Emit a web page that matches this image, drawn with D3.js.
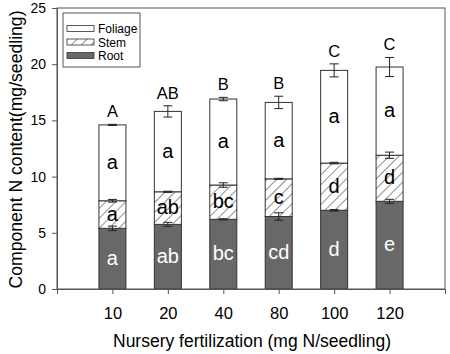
<!DOCTYPE html>
<html>
<head>
<meta charset="utf-8">
<script src="https://cdn.jsdelivr.net/npm/d3@7"></script>
<style>
  body { margin: 0; background: #fff; }
  svg { font-family: "Liberation Sans", Arial, sans-serif; }
</style>
</head>
<body>
<script>
let width = 450;
let height = 354;

// data
let categories = ["10", "20", "40", "80", "100", "120"];
let root = [5.4, 5.75, 6.2, 6.45, 7.0, 7.8];
let stem = [2.45, 2.9, 3.05, 3.35, 4.2, 4.1];
let foliage = [6.75, 7.15, 7.65, 6.8, 8.25, 7.85];
let rootErr = [0.2, 0.18, 0.05, 0.33, 0.07, 0.18];
let stemErr = [0.12, 0.05, 0.2, 0.05, 0.07, 0.28];
let foliageErr = [0.05, 0.5, 0.15, 0.55, 0.58, 0.85];
let totalLetters = ["A", "AB", "B", "B", "C", "C"];
let foliageLetters = ["a", "a", "a", "a", "a", "a"];
let stemLetters = ["a", "ab", "bc", "c", "d", "d"];
let rootLetters = ["a", "ab", "bc", "cd", "d", "e"];
let yTicks = [0, 5, 10, 15, 20, 25];

let mLeft = 57, mRight = 445, mTop = 8, mBottom = 289;
let barW = 27;

let svg = d3.select("body").append("svg")
    .attr("width", width)
    .attr("height", height);

let defs = svg.append("defs");
let pat = defs.append("pattern")
    .attr("id", "hatch")
    .attr("patternUnits", "userSpaceOnUse")
    .attr("width", 7)
    .attr("height", 7)
    .attr("patternTransform", "rotate(45)");
pat.append("rect").attr("width", 7).attr("height", 7).attr("fill", "#fff");
pat.append("line")
    .attr("x1", 0).attr("y1", 0).attr("x2", 0).attr("y2", 7)
    .attr("stroke", "#222").attr("stroke-width", 1);

let x = d3.scaleLinear().domain([0, categories.length + 1]).range([mLeft, mRight]);
let y = d3.scaleLinear().domain([0, 25]).range([mBottom, mTop]);

// build stacked rows
let rows = categories.map(function (c, i) {
    return {
        i: i,
        cat: c,
        segs: [
            {key: "root", y0: 0, y1: root[i], err: rootErr[i], letter: rootLetters[i]},
            {key: "stem", y0: root[i], y1: root[i] + stem[i], err: stemErr[i], letter: stemLetters[i]},
            {key: "foliage", y0: root[i] + stem[i], y1: root[i] + stem[i] + foliage[i], err: foliageErr[i], letter: foliageLetters[i]}
        ]
    };
});

let fills = {root: "#686868", stem: "url(#hatch)", foliage: "#fff"};

let bars = svg.append("g").selectAll("g")
    .data(rows)
    .enter()
    .append("g");

bars.selectAll("rect")
    .data(function (d) { return d.segs.map(function (s) { return Object.assign({i: d.i}, s); }); })
    .enter()
    .append("rect")
    .attr("x", function (s) { return x(s.i + 1) - barW / 2; })
    .attr("y", function (s) { return y(s.y1); })
    .attr("width", barW)
    .attr("height", function (s) { return y(s.y0) - y(s.y1); })
    .attr("fill", function (s) { return fills[s.key]; })
    .attr("stroke", "#333")
    .attr("stroke-width", 1);

// error bars
let errs = [];
rows.forEach(function (d) {
    d.segs.forEach(function (s) { errs.push({i: d.i, v: s.y1, e: s.err}); });
});
let eg = svg.append("g").attr("stroke", "#222").attr("stroke-width", 1);
errs.forEach(function (d) {
    let cx = x(d.i + 1);
    let y1 = y(d.v + d.e), y2 = y(d.v - d.e);
    eg.append("line").attr("x1", cx).attr("x2", cx).attr("y1", y1).attr("y2", y2);
    eg.append("line").attr("x1", cx - 4.5).attr("x2", cx + 4.5).attr("y1", y1).attr("y2", y1);
    eg.append("line").attr("x1", cx - 4.5).attr("x2", cx + 4.5).attr("y1", y2).attr("y2", y2);
});

// letters inside segments
bars.selectAll("text.in")
    .data(function (d) { return d.segs.map(function (s) { return Object.assign({i: d.i}, s); }); })
    .enter()
    .append("text")
    .attr("class", "in")
    .attr("x", function (s) { return x(s.i + 1); })
    .attr("y", function (s) { return (y(s.y0) + y(s.y1)) / 2 + 6; })
    .attr("text-anchor", "middle")
    .attr("font-size", 20)
    .attr("fill", function (s) { return s.key === "root" ? "#fff" : "#000"; })
    .text(function (s) { return s.letter; });

// letters above bars
bars.append("text")
    .attr("x", function (d) { return x(d.i + 1); })
    .attr("y", function (d) {
        let top3 = d.segs[2];
        return y(top3.y1 + top3.err) - 7;
    })
    .attr("text-anchor", "middle")
    .attr("font-size", 16.5)
    .attr("fill", "#000")
    .text(function (d) { return totalLetters[d.i]; });

// frame
svg.append("rect")
    .attr("x", mLeft).attr("y", mTop)
    .attr("width", mRight - mLeft).attr("height", mBottom - mTop)
    .attr("fill", "none").attr("stroke", "#555").attr("stroke-width", 1);

// axes
let yAxis = d3.axisLeft(y).tickValues(yTicks).tickSize(5).tickPadding(6);
let yg = svg.append("g").attr("transform", "translate(" + mLeft + ",0)").call(yAxis);
let xAxis = d3.axisBottom(x)
    .tickValues(d3.range(1, categories.length + 1))
    .tickFormat(function (v) { return categories[v - 1]; })
    .tickSize(5).tickPadding(13);
let xg = svg.append("g").attr("transform", "translate(0," + mBottom + ")").call(xAxis);
[yg, xg].forEach(function (g) {
    g.select(".domain").attr("stroke", "#555");
    g.selectAll(".tick line").attr("stroke", "#555");
    g.selectAll(".tick text").attr("fill", "#000")
        .attr("font-family", "Liberation Sans, Arial, sans-serif");
});
yg.selectAll(".tick text").attr("font-size", 14);
xg.selectAll(".tick text").attr("font-size", 16.5);

// axis titles
svg.append("text")
    .attr("x", (mLeft + mRight) / 2 + 1)
    .attr("y", 347)
    .attr("text-anchor", "middle")
    .attr("font-size", 17.5)
    .attr("textLength", 278)
    .attr("lengthAdjust", "spacingAndGlyphs")
    .text("Nursery fertilization (mg N/seedling)");
svg.append("text")
    .attr("transform", "translate(22," + ((mTop + mBottom) / 2 + 1) + ") rotate(-90)")
    .attr("text-anchor", "middle")
    .attr("font-size", 17.5)
    .attr("textLength", 278)
    .attr("lengthAdjust", "spacingAndGlyphs")
    .text("Component N content(mg/seedling)");

// legend
let lg = svg.append("g").attr("transform", "translate(63,13)");
lg.append("rect").attr("width", 77).attr("height", 54)
    .attr("fill", "#fff").attr("stroke", "#555").attr("stroke-width", 1);
let legendItems = [["Foliage", "foliage"], ["Stem", "stem"], ["Root", "root"]];
legendItems.forEach(function (d, k) {
    let yy = 12.5 + k * 13.5;
    lg.append("rect").attr("x", 4).attr("y", yy).attr("width", 27).attr("height", 6)
        .attr("fill", fills[d[1]]).attr("stroke", "#333").attr("stroke-width", 0.8);
    lg.append("text").attr("x", 35).attr("y", yy + 7.5).attr("font-size", 12).text(d[0]);
});
</script>
</body>
</html>
